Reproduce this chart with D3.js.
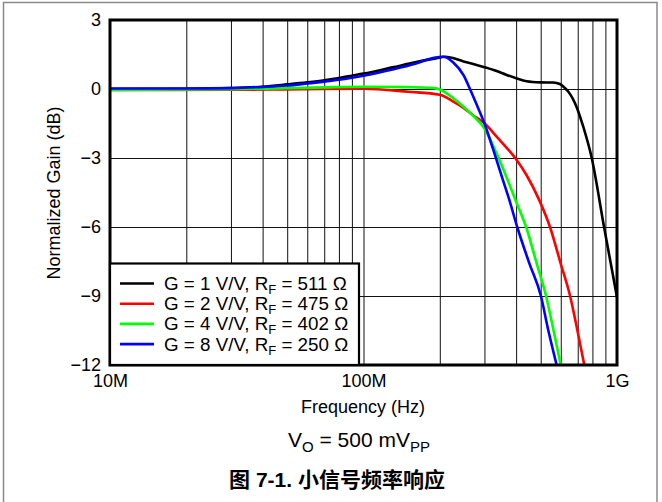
<!DOCTYPE html>
<html>
<head>
<meta charset="utf-8">
<script src="https://cdn.jsdelivr.net/npm/d3@7/dist/d3.min.js"></script>
<style>
  html, body { margin: 0; padding: 0; background: #fff; }
  svg { display: block; }
  text { font-family: "Liberation Sans", Arial, "Noto Sans CJK SC", sans-serif; fill: #000; }
</style>
</head>
<body>
<script>
// Small-signal frequency response, normalized gain vs frequency (MHz, dB)
const g1Freq = [10, 20, 30, 40, 50, 60, 70, 80, 90, 100, 130, 160, 190, 210, 248, 300, 335, 367, 400, 440, 500, 560, 595, 620, 643, 694, 736, 795, 889, 1000];
const g1Gain = [0.0, 0.01, 0.04, 0.1, 0.2, 0.29, 0.38, 0.48, 0.58, 0.67, 0.94, 1.16, 1.32, 1.4, 1.2, 0.95, 0.78, 0.61, 0.47, 0.34, 0.29, 0.28, 0.22, 0.06, -0.12, -0.8, -1.64, -3.0, -6.0, -9.05];

const g2Freq = [10, 30, 50, 70, 100, 150, 200, 226, 248, 271, 300, 340, 370, 400, 440, 492, 544, 600, 653, 698, 743];
const g2Gain = [-0.04, -0.03, -0.02, 0.0, 0.01, -0.12, -0.25, -0.55, -0.82, -1.15, -1.49, -2.15, -2.6, -3.05, -3.75, -4.8, -6.0, -7.6, -9.0, -10.5, -12.0];

const g3Freq = [10, 30, 50, 70, 100, 150, 185, 200, 226, 248, 271, 300, 335, 367, 400, 438, 482, 525, 562, 600];
const g3Gain = [-0.04, -0.01, 0.03, 0.07, 0.1, 0.08, 0.05, -0.02, -0.4, -0.77, -1.17, -1.72, -2.8, -3.85, -4.9, -6.0, -7.58, -9.0, -10.5, -12.0];

const g4Freq = [10, 20, 30, 40, 50, 60, 70, 80, 90, 100, 130, 160, 190, 206, 226, 248, 263, 280, 300, 325, 351, 375, 404, 451, 501, 536, 578];
const g4Gain = [0.02, 0.02, 0.04, 0.09, 0.15, 0.24, 0.32, 0.4, 0.49, 0.58, 0.85, 1.1, 1.36, 1.4, 1.15, 0.6, 0.0, -0.7, -1.5, -2.64, -3.8, -4.78, -6.0, -7.58, -9.0, -10.5, -12.0];

const seriesColors = ["#000000", "#ff0000", "#00ff00", "#0000ff"];
const seriesGain = ["1", "2", "4", "8"];
const seriesRf = ["511", "475", "402", "250"];

const xTickValues = [1e7, 1e8, 1e9];
const xTickLabels = ["10M", "100M", "1G"];
const yTickValues = [3, 0, -3, -6, -9, -12];

const W = 662, H = 502;
const plot = { left: 110, right: 617, top: 20, bottom: 365 };

const svg = d3.select("body").append("svg").attr("width", W).attr("height", H);

// figure frame
svg.append("rect")
  .attr("x", 3.5).attr("y", 2.5).attr("width", 653.5).attr("height", 530)
  .attr("fill", "none").attr("stroke", "#8a8a8a").attr("stroke-width", 1.5);

const x = d3.scaleLog().domain([1e7, 1e9]).range([plot.left, plot.right]);
const y = d3.scaleLinear().domain([-12, 3]).range([plot.bottom, plot.top]);

// grid: every 1..9 multiple per decade, every 3 dB
const gridFreqs = x.ticks().filter(f => f > 1e7 && f < 1e9);
const grid = svg.append("g");
grid.append("g")
  .attr("transform", `translate(0,${plot.bottom})`)
  .call(d3.axisBottom(x).tickValues(gridFreqs).tickSize(-(plot.bottom - plot.top)).tickFormat(""))
  .call(g => g.select(".domain").remove())
  .call(g => g.selectAll("line").attr("stroke", "#111").attr("stroke-width", 1));
grid.append("g")
  .attr("transform", `translate(${plot.left},0)`)
  .call(d3.axisLeft(y).tickValues(yTickValues.filter(v => v > -12 && v < 3)).tickSize(-(plot.right - plot.left)).tickFormat(""))
  .call(g => g.select(".domain").remove())
  .call(g => g.selectAll("line").attr("stroke", "#111").attr("stroke-width", 1));

// curves
svg.append("clipPath").attr("id", "plotClip")
  .append("rect").attr("x", plot.left).attr("y", plot.top)
  .attr("width", plot.right - plot.left).attr("height", plot.bottom - plot.top);

const series = [
  { f: g1Freq, g: g1Gain },
  { f: g2Freq, g: g2Gain },
  { f: g3Freq, g: g3Gain },
  { f: g4Freq, g: g4Gain }
];
const line = d3.line()
  .x(d => x(d[0] * 1e6))
  .y(d => y(d[1]))
  .curve(d3.curveMonotoneX);

const curves = svg.append("g").attr("clip-path", "url(#plotClip)");
series.forEach((s, i) => {
  curves.append("path")
    .attr("d", line(s.f.map((f, k) => [f, s.g[k]])))
    .attr("fill", "none")
    .attr("stroke", seriesColors[i])
    .attr("stroke-width", 2.6)
    .attr("stroke-linejoin", "round");
});

// axes and labels
const yAxis = svg.append("g")
  .attr("transform", `translate(${plot.left},0)`)
  .call(d3.axisLeft(y).tickValues(yTickValues).tickSize(0).tickPadding(9).tickFormat(d3.format("d")));
yAxis.select(".domain").remove();
yAxis.selectAll("text")
  .attr("font-size", 18).attr("font-family", "Liberation Sans, Arial, sans-serif").attr("fill", "#000");

const xAxis = svg.append("g")
  .attr("transform", `translate(0,${plot.bottom})`)
  .call(d3.axisBottom(x).tickValues(xTickValues).tickSize(0).tickPadding(9)
    .tickFormat((d, i) => xTickLabels[i]));
xAxis.select(".domain").remove();
xAxis.selectAll("text")
  .attr("font-size", 18).attr("font-family", "Liberation Sans, Arial, sans-serif").attr("fill", "#000");

// plot border
svg.append("rect")
  .attr("x", plot.left).attr("y", plot.top)
  .attr("width", plot.right - plot.left).attr("height", plot.bottom - plot.top)
  .attr("fill", "none").attr("stroke", "#000").attr("stroke-width", 3);

svg.append("text")
  .attr("x", (plot.left + plot.right) / 2 - 0.5).attr("y", 413)
  .attr("text-anchor", "middle").attr("font-size", 18)
  .text("Frequency (Hz)");

svg.append("text")
  .attr("transform", `translate(60,193) rotate(-90)`)
  .attr("text-anchor", "middle").attr("font-size", 18)
  .text("Normalized Gain (dB)");

// legend
const lg = svg.append("g");
lg.append("rect")
  .attr("x", plot.left).attr("y", 263.5)
  .attr("width", 249).attr("height", plot.bottom - 263.5)
  .attr("fill", "#fff").attr("stroke", "#000").attr("stroke-width", 2.2);
series.forEach((s, i) => {
  const cy = 283.5 + i * 20.2;
  lg.append("line")
    .attr("x1", 120).attr("x2", 154).attr("y1", cy).attr("y2", cy)
    .attr("stroke", seriesColors[i]).attr("stroke-width", 2.6);
  const t = lg.append("text").attr("x", 164).attr("y", cy + 6.5).attr("font-size", 18.8);
  t.append("tspan").text(`G = ${seriesGain[i]} V/V, R`);
  t.append("tspan").attr("font-size", 13).attr("dy", 4).text("F");
  t.append("tspan").attr("dy", -4).text(` = ${seriesRf[i]} \u03A9`);
});

// condition note
const vo = svg.append("text")
  .attr("x", 359).attr("y", 447).attr("text-anchor", "middle").attr("font-size", 21);
vo.append("tspan").text("V");
vo.append("tspan").attr("font-size", 15).attr("dy", 5).text("O");
vo.append("tspan").attr("dy", -5).text(" = 500 mV");
vo.append("tspan").attr("font-size", 15).attr("dy", 5).text("PP");

// caption
svg.append("text")
  .attr("x", 337).attr("y", 487).attr("text-anchor", "middle")
  .attr("font-size", 21).attr("font-weight", "bold")
  .attr("font-family", "Liberation Sans, Arial, Noto Sans CJK SC, sans-serif")
  .text("图 7-1. 小信号频率响应");
</script>
</body>
</html>
